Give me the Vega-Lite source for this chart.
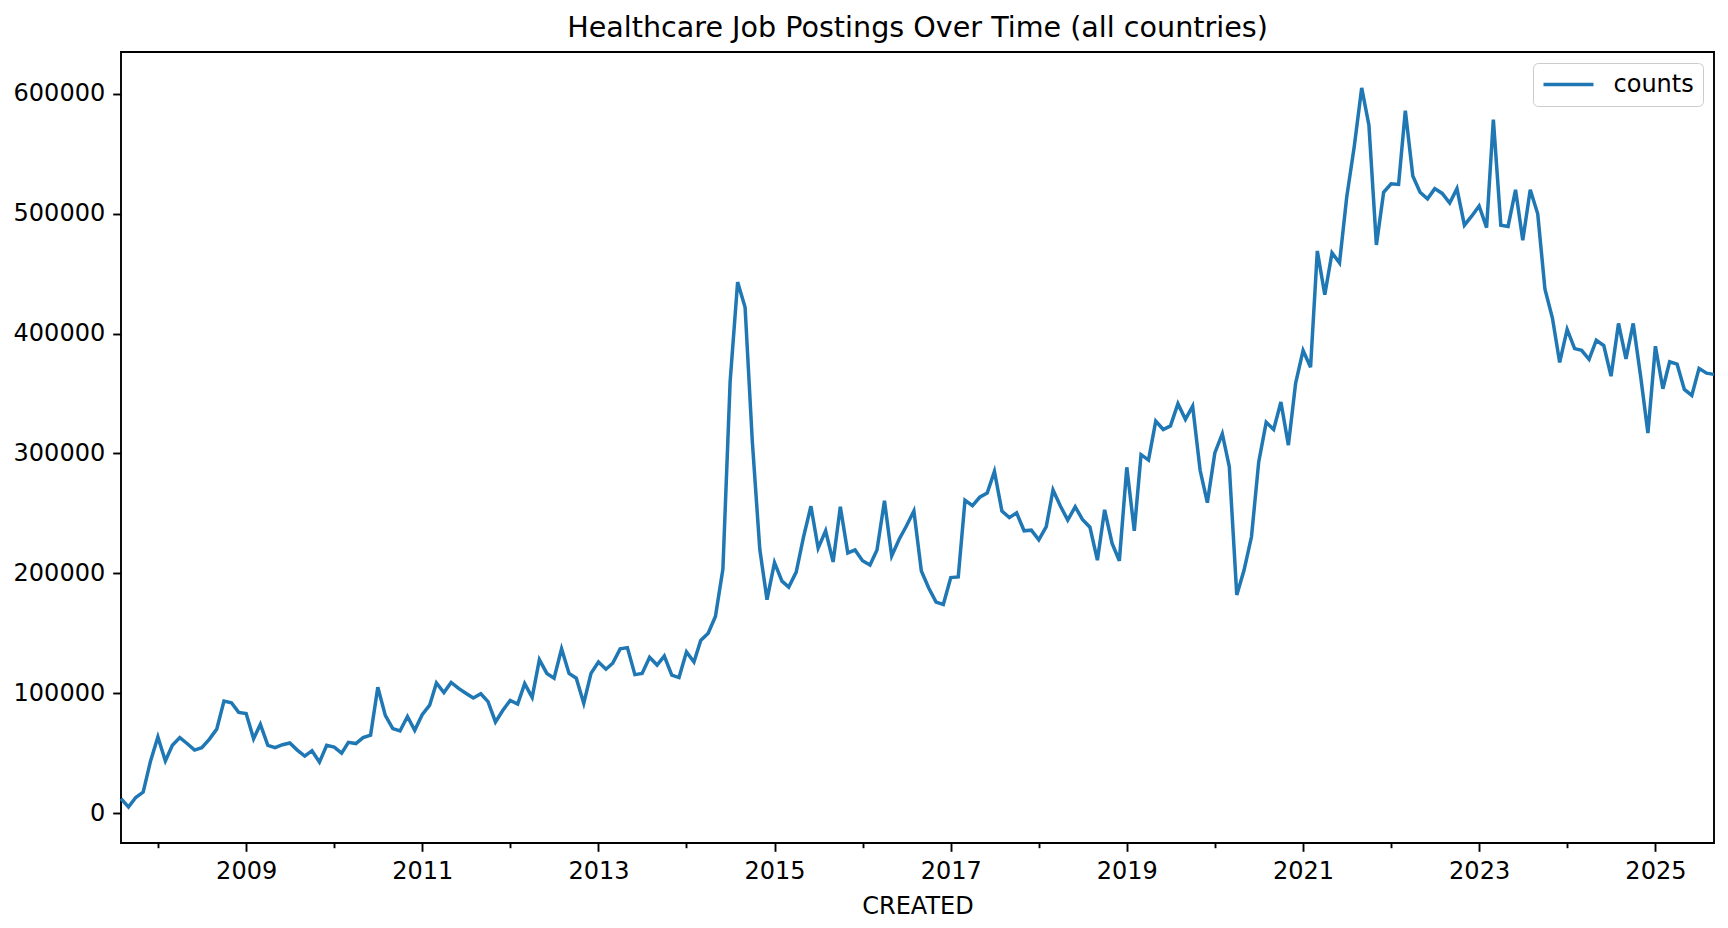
{
  "$schema": "https://vega.github.io/schema/vega-lite/v6.json",
  "width": 1593,
  "height": 791,
  "autosize": {"type": "none"},
  "padding": {"left": 121, "top": 52, "right": 14, "bottom": 85},
  "background": "white",
  "title": {"text": "Healthcare Job Postings Over Time (all countries)", "fontSize": 28.6, "font": "DejaVu Sans", "fontWeight": "normal", "color": "#000", "baseline": "bottom", "offset": 11, "dy": 31, "anchor": "middle"},
  "data": {
    "format": {"parse": {"CREATED": "utc:'%Y-%m'"}},
    "values": [
      {"CREATED": "2007-08", "counts": 12000}, {"CREATED": "2007-09", "counts": 5000}, {"CREATED": "2007-10", "counts": 13000}, {"CREATED": "2007-11", "counts": 17500}, {"CREATED": "2007-12", "counts": 43000},
      {"CREATED": "2008-01", "counts": 63500}, {"CREATED": "2008-02", "counts": 43500}, {"CREATED": "2008-03", "counts": 56500}, {"CREATED": "2008-04", "counts": 63000}, {"CREATED": "2008-05", "counts": 58000}, {"CREATED": "2008-06", "counts": 52500}, {"CREATED": "2008-07", "counts": 54500}, {"CREATED": "2008-08", "counts": 61500}, {"CREATED": "2008-09", "counts": 70000}, {"CREATED": "2008-10", "counts": 93500}, {"CREATED": "2008-11", "counts": 92000}, {"CREATED": "2008-12", "counts": 84000},
      {"CREATED": "2009-01", "counts": 83000}, {"CREATED": "2009-02", "counts": 62000}, {"CREATED": "2009-03", "counts": 74000}, {"CREATED": "2009-04", "counts": 56500}, {"CREATED": "2009-05", "counts": 54500}, {"CREATED": "2009-06", "counts": 57000}, {"CREATED": "2009-07", "counts": 58500}, {"CREATED": "2009-08", "counts": 52500}, {"CREATED": "2009-09", "counts": 47500}, {"CREATED": "2009-10", "counts": 52000}, {"CREATED": "2009-11", "counts": 42500}, {"CREATED": "2009-12", "counts": 56500},
      {"CREATED": "2010-01", "counts": 55000}, {"CREATED": "2010-02", "counts": 50000}, {"CREATED": "2010-03", "counts": 59000}, {"CREATED": "2010-04", "counts": 58000}, {"CREATED": "2010-05", "counts": 63000}, {"CREATED": "2010-06", "counts": 65000}, {"CREATED": "2010-07", "counts": 105000}, {"CREATED": "2010-08", "counts": 81500}, {"CREATED": "2010-09", "counts": 70500}, {"CREATED": "2010-10", "counts": 68500}, {"CREATED": "2010-11", "counts": 80500}, {"CREATED": "2010-12", "counts": 69000},
      {"CREATED": "2011-01", "counts": 82000}, {"CREATED": "2011-02", "counts": 90000}, {"CREATED": "2011-03", "counts": 108500}, {"CREATED": "2011-04", "counts": 100500}, {"CREATED": "2011-05", "counts": 109000}, {"CREATED": "2011-06", "counts": 104000}, {"CREATED": "2011-07", "counts": 100000}, {"CREATED": "2011-08", "counts": 96000}, {"CREATED": "2011-09", "counts": 99500}, {"CREATED": "2011-10", "counts": 93000}, {"CREATED": "2011-11", "counts": 76000}, {"CREATED": "2011-12", "counts": 85500},
      {"CREATED": "2012-01", "counts": 94000}, {"CREATED": "2012-02", "counts": 91000}, {"CREATED": "2012-03", "counts": 108000}, {"CREATED": "2012-04", "counts": 96500}, {"CREATED": "2012-05", "counts": 128000}, {"CREATED": "2012-06", "counts": 116500}, {"CREATED": "2012-07", "counts": 112500}, {"CREATED": "2012-08", "counts": 137000}, {"CREATED": "2012-09", "counts": 116500}, {"CREATED": "2012-10", "counts": 112500}, {"CREATED": "2012-11", "counts": 91500}, {"CREATED": "2012-12", "counts": 116500},
      {"CREATED": "2013-01", "counts": 126000}, {"CREATED": "2013-02", "counts": 120000}, {"CREATED": "2013-03", "counts": 125000}, {"CREATED": "2013-04", "counts": 137000}, {"CREATED": "2013-05", "counts": 138000}, {"CREATED": "2013-06", "counts": 115500}, {"CREATED": "2013-07", "counts": 116500}, {"CREATED": "2013-08", "counts": 130000}, {"CREATED": "2013-09", "counts": 123500}, {"CREATED": "2013-10", "counts": 131000}, {"CREATED": "2013-11", "counts": 115000}, {"CREATED": "2013-12", "counts": 113000},
      {"CREATED": "2014-01", "counts": 134500}, {"CREATED": "2014-02", "counts": 126000}, {"CREATED": "2014-03", "counts": 144000}, {"CREATED": "2014-04", "counts": 150000}, {"CREATED": "2014-05", "counts": 164000}, {"CREATED": "2014-06", "counts": 203500}, {"CREATED": "2014-07", "counts": 360000}, {"CREATED": "2014-08", "counts": 443000}, {"CREATED": "2014-09", "counts": 422000}, {"CREATED": "2014-10", "counts": 310000}, {"CREATED": "2014-11", "counts": 220000}, {"CREATED": "2014-12", "counts": 178000},
      {"CREATED": "2015-01", "counts": 209000}, {"CREATED": "2015-02", "counts": 193500}, {"CREATED": "2015-03", "counts": 188500}, {"CREATED": "2015-04", "counts": 201000}, {"CREATED": "2015-05", "counts": 230000}, {"CREATED": "2015-06", "counts": 256000}, {"CREATED": "2015-07", "counts": 221000}, {"CREATED": "2015-08", "counts": 235500}, {"CREATED": "2015-09", "counts": 209500}, {"CREATED": "2015-10", "counts": 255500}, {"CREATED": "2015-11", "counts": 217000}, {"CREATED": "2015-12", "counts": 219500},
      {"CREATED": "2016-01", "counts": 210500}, {"CREATED": "2016-02", "counts": 207000}, {"CREATED": "2016-03", "counts": 219500}, {"CREATED": "2016-04", "counts": 260500}, {"CREATED": "2016-05", "counts": 214500}, {"CREATED": "2016-06", "counts": 228500}, {"CREATED": "2016-07", "counts": 239500}, {"CREATED": "2016-08", "counts": 252000}, {"CREATED": "2016-09", "counts": 202000}, {"CREATED": "2016-10", "counts": 188000}, {"CREATED": "2016-11", "counts": 176000}, {"CREATED": "2016-12", "counts": 174000},
      {"CREATED": "2017-01", "counts": 196500}, {"CREATED": "2017-02", "counts": 197000}, {"CREATED": "2017-03", "counts": 261000}, {"CREATED": "2017-04", "counts": 256500}, {"CREATED": "2017-05", "counts": 263500}, {"CREATED": "2017-06", "counts": 267000}, {"CREATED": "2017-07", "counts": 285000}, {"CREATED": "2017-08", "counts": 252000}, {"CREATED": "2017-09", "counts": 246500}, {"CREATED": "2017-10", "counts": 250500}, {"CREATED": "2017-11", "counts": 235500}, {"CREATED": "2017-12", "counts": 236000},
      {"CREATED": "2018-01", "counts": 228000}, {"CREATED": "2018-02", "counts": 239000}, {"CREATED": "2018-03", "counts": 269500}, {"CREATED": "2018-04", "counts": 256000}, {"CREATED": "2018-05", "counts": 244500}, {"CREATED": "2018-06", "counts": 255500}, {"CREATED": "2018-07", "counts": 245000}, {"CREATED": "2018-08", "counts": 238500}, {"CREATED": "2018-09", "counts": 211000}, {"CREATED": "2018-10", "counts": 253000}, {"CREATED": "2018-11", "counts": 225000}, {"CREATED": "2018-12", "counts": 210500},
      {"CREATED": "2019-01", "counts": 288500}, {"CREATED": "2019-02", "counts": 235500}, {"CREATED": "2019-03", "counts": 299000}, {"CREATED": "2019-04", "counts": 294500}, {"CREATED": "2019-05", "counts": 327000}, {"CREATED": "2019-06", "counts": 320000}, {"CREATED": "2019-07", "counts": 323000}, {"CREATED": "2019-08", "counts": 341500}, {"CREATED": "2019-09", "counts": 328500}, {"CREATED": "2019-10", "counts": 339500}, {"CREATED": "2019-11", "counts": 286000}, {"CREATED": "2019-12", "counts": 259000},
      {"CREATED": "2020-01", "counts": 300500}, {"CREATED": "2020-02", "counts": 316500}, {"CREATED": "2020-03", "counts": 289000}, {"CREATED": "2020-04", "counts": 182000}, {"CREATED": "2020-05", "counts": 202500}, {"CREATED": "2020-06", "counts": 230500}, {"CREATED": "2020-07", "counts": 293000}, {"CREATED": "2020-08", "counts": 326000}, {"CREATED": "2020-09", "counts": 320000}, {"CREATED": "2020-10", "counts": 343000}, {"CREATED": "2020-11", "counts": 307000}, {"CREATED": "2020-12", "counts": 358500},
      {"CREATED": "2021-01", "counts": 386000}, {"CREATED": "2021-02", "counts": 372000}, {"CREATED": "2021-03", "counts": 469000}, {"CREATED": "2021-04", "counts": 432500}, {"CREATED": "2021-05", "counts": 467500}, {"CREATED": "2021-06", "counts": 459000}, {"CREATED": "2021-07", "counts": 514000}, {"CREATED": "2021-08", "counts": 556000}, {"CREATED": "2021-09", "counts": 605000}, {"CREATED": "2021-10", "counts": 574000}, {"CREATED": "2021-11", "counts": 474000}, {"CREATED": "2021-12", "counts": 518000},
      {"CREATED": "2022-01", "counts": 525000}, {"CREATED": "2022-02", "counts": 524500}, {"CREATED": "2022-03", "counts": 586000}, {"CREATED": "2022-04", "counts": 531500}, {"CREATED": "2022-05", "counts": 518000}, {"CREATED": "2022-06", "counts": 512500}, {"CREATED": "2022-07", "counts": 521000}, {"CREATED": "2022-08", "counts": 517000}, {"CREATED": "2022-09", "counts": 509000}, {"CREATED": "2022-10", "counts": 521000}, {"CREATED": "2022-11", "counts": 490500}, {"CREATED": "2022-12", "counts": 498000},
      {"CREATED": "2023-01", "counts": 506500}, {"CREATED": "2023-02", "counts": 488500}, {"CREATED": "2023-03", "counts": 578500}, {"CREATED": "2023-04", "counts": 490500}, {"CREATED": "2023-05", "counts": 489500}, {"CREATED": "2023-06", "counts": 520000}, {"CREATED": "2023-07", "counts": 478000}, {"CREATED": "2023-08", "counts": 520000}, {"CREATED": "2023-09", "counts": 500000}, {"CREATED": "2023-10", "counts": 437000}, {"CREATED": "2023-11", "counts": 413000}, {"CREATED": "2023-12", "counts": 376000},
      {"CREATED": "2024-01", "counts": 403500}, {"CREATED": "2024-02", "counts": 387500}, {"CREATED": "2024-03", "counts": 386000}, {"CREATED": "2024-04", "counts": 378500}, {"CREATED": "2024-05", "counts": 394500}, {"CREATED": "2024-06", "counts": 390000}, {"CREATED": "2024-07", "counts": 364500}, {"CREATED": "2024-08", "counts": 408500}, {"CREATED": "2024-09", "counts": 379000}, {"CREATED": "2024-10", "counts": 408500}, {"CREATED": "2024-11", "counts": 364000}, {"CREATED": "2024-12", "counts": 317000},
      {"CREATED": "2025-01", "counts": 389500}, {"CREATED": "2025-02", "counts": 354000}, {"CREATED": "2025-03", "counts": 376500}, {"CREATED": "2025-04", "counts": 374500}, {"CREATED": "2025-05", "counts": 353500}, {"CREATED": "2025-06", "counts": 348500}, {"CREATED": "2025-07", "counts": 371000}, {"CREATED": "2025-08", "counts": 367000}, {"CREATED": "2025-09", "counts": 366000}
    ]
  },
  "config": {
    "font": "DejaVu Sans",
    "view": {"stroke": "#000", "strokeWidth": 1.9},
    "axis": {"grid": false, "domain": false, "labelFont": "DejaVu Sans", "labelFontSize": 24, "labelColor": "#000", "tickColor": "#000", "tickWidth": 1.9, "titleFont": "DejaVu Sans", "titleFontSize": 24, "titleFontWeight": "normal", "titleColor": "#000"}
  },
  "layer": [
    {
      "mark": {"type": "line", "strokeWidth": 3.5},
      "encoding": {
        "x": {
          "field": "CREATED", "type": "temporal",
          "scale": {"type": "utc", "domain": [{"year": 2007, "month": 8, "date": 1, "utc": true}, {"year": 2025, "month": 9, "date": 1, "utc": true}]},
          "axis": {"orient": "bottom", "values": [{"year": 2009, "utc": true}, {"year": 2011, "utc": true}, {"year": 2013, "utc": true}, {"year": 2015, "utc": true}, {"year": 2017, "utc": true}, {"year": 2019, "utc": true}, {"year": 2021, "utc": true}, {"year": 2023, "utc": true}, {"year": 2025, "utc": true}], "format": "%Y", "tickSize": 8.3, "labelPadding": 8, "labelFlush": false, "labelOverlap": false, "title": "CREATED", "titlePadding": 11}
        },
        "y": {
          "field": "counts", "type": "quantitative",
          "scale": {"domain": [-25000, 635000], "nice": false, "zero": false},
          "axis": {"values": [0, 100000, 200000, 300000, 400000, 500000, 600000], "format": "d", "tickSize": 8.3, "labelPadding": 8, "title": null}
        },
        "color": {
          "datum": "counts", "type": "nominal",
          "scale": {"range": ["#1f77b4"]},
          "legend": {"title": null, "orient": "top-right", "offset": 11, "symbolType": "stroke", "symbolSize": 2500, "symbolStrokeWidth": 3.5, "clipHeight": 26, "labelFontSize": 24, "labelFont": "DejaVu Sans", "labelColor": "#000", "labelOffset": 18, "padding": 8.5, "strokeColor": "#cccccc", "fillColor": "rgba(255,255,255,0.8)", "cornerRadius": 5}
        }
      }
    },
    {
      "mark": {"type": "line", "opacity": 0},
      "encoding": {
        "x": {
          "field": "CREATED", "type": "temporal",
          "scale": {"type": "utc", "domain": [{"year": 2007, "month": 8, "date": 1, "utc": true}, {"year": 2025, "month": 9, "date": 1, "utc": true}]},
          "axis": {"orient": "bottom", "values": [{"year": 2008, "utc": true}, {"year": 2010, "utc": true}, {"year": 2012, "utc": true}, {"year": 2014, "utc": true}, {"year": 2016, "utc": true}, {"year": 2018, "utc": true}, {"year": 2020, "utc": true}, {"year": 2022, "utc": true}, {"year": 2024, "utc": true}], "labels": false, "tickSize": 4.7, "title": null}
        },
        "y": {"field": "counts", "type": "quantitative", "scale": {"domain": [-25000, 635000], "nice": false, "zero": false}}
      }
    }
  ],
  "resolve": {"axis": {"x": "independent"}}
}
